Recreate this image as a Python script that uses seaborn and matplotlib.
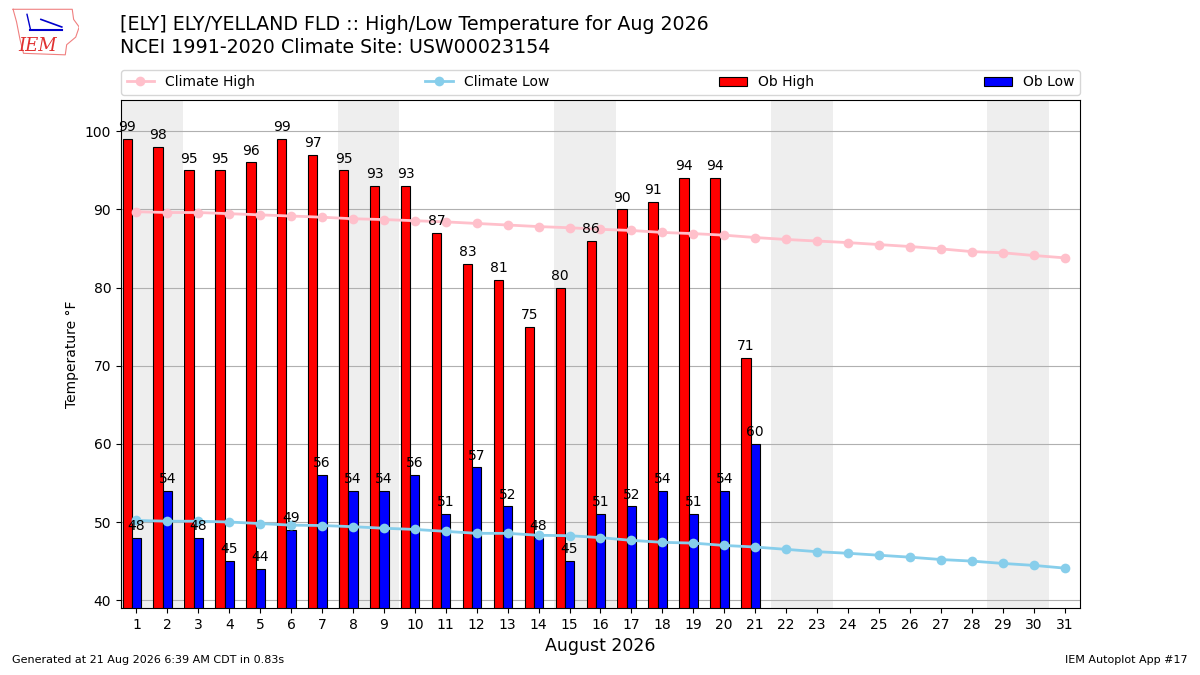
"""
High/Low temperature chart for ELY, August 2026 (IEM autoplot style)
"""

import matplotlib
matplotlib.use("Agg")
import matplotlib.pyplot as plt
import seaborn as sns
import pandas as pd

# ================================================================
# Data
# ================================================================
days = list(range(1, 32))
ob_days = list(range(1, 22))

climate_high = [89.7, 89.6, 89.6, 89.45, 89.3, 89.15, 89.0, 88.8, 88.7, 88.55,
                88.4, 88.2, 88.0, 87.8, 87.65, 87.45, 87.3, 87.05, 86.9, 86.7,
                86.4, 86.15, 85.95, 85.75, 85.5, 85.25, 84.95, 84.6, 84.45, 84.1,
                83.8]
climate_low = [50.2, 50.1, 50.1, 50.0, 49.8, 49.6, 49.55, 49.4, 49.2, 49.05,
               48.8, 48.55, 48.55, 48.3, 48.25, 48.0, 47.65, 47.4, 47.3, 47.0,
               46.8, 46.5, 46.2, 46.0, 45.75, 45.5, 45.2, 45.0, 44.7, 44.45,
               44.1]
ob_high = [99, 98, 95, 95, 96, 99, 97, 95, 93, 93, 87, 83, 81, 75, 80, 86, 90,
           91, 94, 94, 71]
ob_low = [48, 54, 48, 45, 44, 49, 56, 54, 54, 56, 51, 57, 52, 48, 45, 51, 52,
          54, 51, 54, 60]
weekend_starts = [1, 8, 15, 22, 29]

clim = pd.DataFrame({"day": days, "high": climate_high, "low": climate_low})

# ================================================================
# Figure
# ================================================================
fig = plt.figure(figsize=(12, 6.75), dpi=100)
ax = fig.add_axes([0.1008, 0.0993, 0.7992, 0.7526])

# weekend shading
for d in weekend_starts:
    ax.axvspan(d - 0.5, d + 1.5, color="#eeeeee", zorder=0, lw=0)

ax.bar([d - 0.3 for d in ob_days], ob_high, width=0.3, color="red",
       edgecolor="black", lw=0.8, label="Ob High", zorder=2)
ax.bar(ob_days, ob_low, width=0.3, color="blue",
       edgecolor="black", lw=0.8, label="Ob Low", zorder=2)

for d, v in zip(ob_days, ob_high):
    ax.text(d - 0.3, v + 0.6, f"{v}", ha="center", va="bottom", fontsize=10, zorder=4)
for d, v in zip(ob_days, ob_low):
    ax.text(d, v + 0.6, f"{v}", ha="center", va="bottom", fontsize=10, zorder=4)

sns.lineplot(data=clim, x="day", y="high", ax=ax, color="pink", marker="o",
             markersize=7, markeredgewidth=0, lw=2, label="Climate High", zorder=3)
sns.lineplot(data=clim, x="day", y="low", ax=ax, color="skyblue", marker="o",
             markersize=7, markeredgewidth=0, lw=2, label="Climate Low", zorder=3)

ax.set_xlim(0.5, 31.5)
ax.set_ylim(39, 104)
ax.set_xticks(days)
ax.set_yticks(range(40, 101, 10))
ax.tick_params(labelsize=10)
ax.yaxis.grid(True, color="#b0b0b0", lw=0.8)
ax.set_axisbelow(True)
ax.set_xlabel("August 2026", fontsize=12.5)
ax.set_ylabel("Temperature \u00b0F", fontsize=10)

handles, labels = ax.get_legend_handles_labels()
order = [labels.index(n) for n in ["Climate High", "Climate Low", "Ob High", "Ob Low"]]
ax.legend([handles[i] for i in order], [labels[i] for i in order],
          loc="lower left", bbox_to_anchor=(0, 1.01, 1, 0.1), ncol=4,
          mode="expand", borderaxespad=0, fontsize=10)

# titles
fig.text(0.1, 0.964, "[ELY] ELY/YELLAND FLD :: High/Low Temperature for Aug 2026",
         fontsize=13.7, ha="left", va="center")
fig.text(0.1, 0.93, "NCEI 1991-2020 Climate Site: USW00023154",
         fontsize=13.7, ha="left", va="center")

# footer
fig.text(0.01, 0.015, "Generated at 21 Aug 2026 6:39 AM CDT in 0.83s",
         fontsize=8, ha="left", va="bottom")
fig.text(0.99, 0.015, "IEM Autoplot App #17", fontsize=8, ha="right", va="bottom")

# simple logo
lax = fig.add_axes([0.008, 0.915, 0.058, 0.075])
lax.set_xlim(0, 1)
lax.set_ylim(0, 1)
lax.axis("off")
lax.plot([0.05, 0.9, 0.92, 1.0, 0.95, 0.82, 0.8, 0.2, 0.15, 0.1, 0.05],
         [0.95, 0.95, 0.75, 0.6, 0.4, 0.25, 0.05, 0.08, 0.35, 0.7, 0.95],
         color="#f08080", lw=0.8)
lax.plot([0.3, 0.75], [0.55, 0.55], color="#0000cc", lw=1.5)
lax.plot([0.45, 0.75], [0.75, 0.6], color="#0000cc", lw=1.2)
lax.plot([0.3, 0.25], [0.55, 0.85], color="#0000cc", lw=1)
lax.text(0.4, 0.22, "IEM", color="#e03030", fontsize=13, family="serif",
         style="italic", ha="center", va="center")

fig.savefig("out.png", dpi=100)
plt.close(fig)
